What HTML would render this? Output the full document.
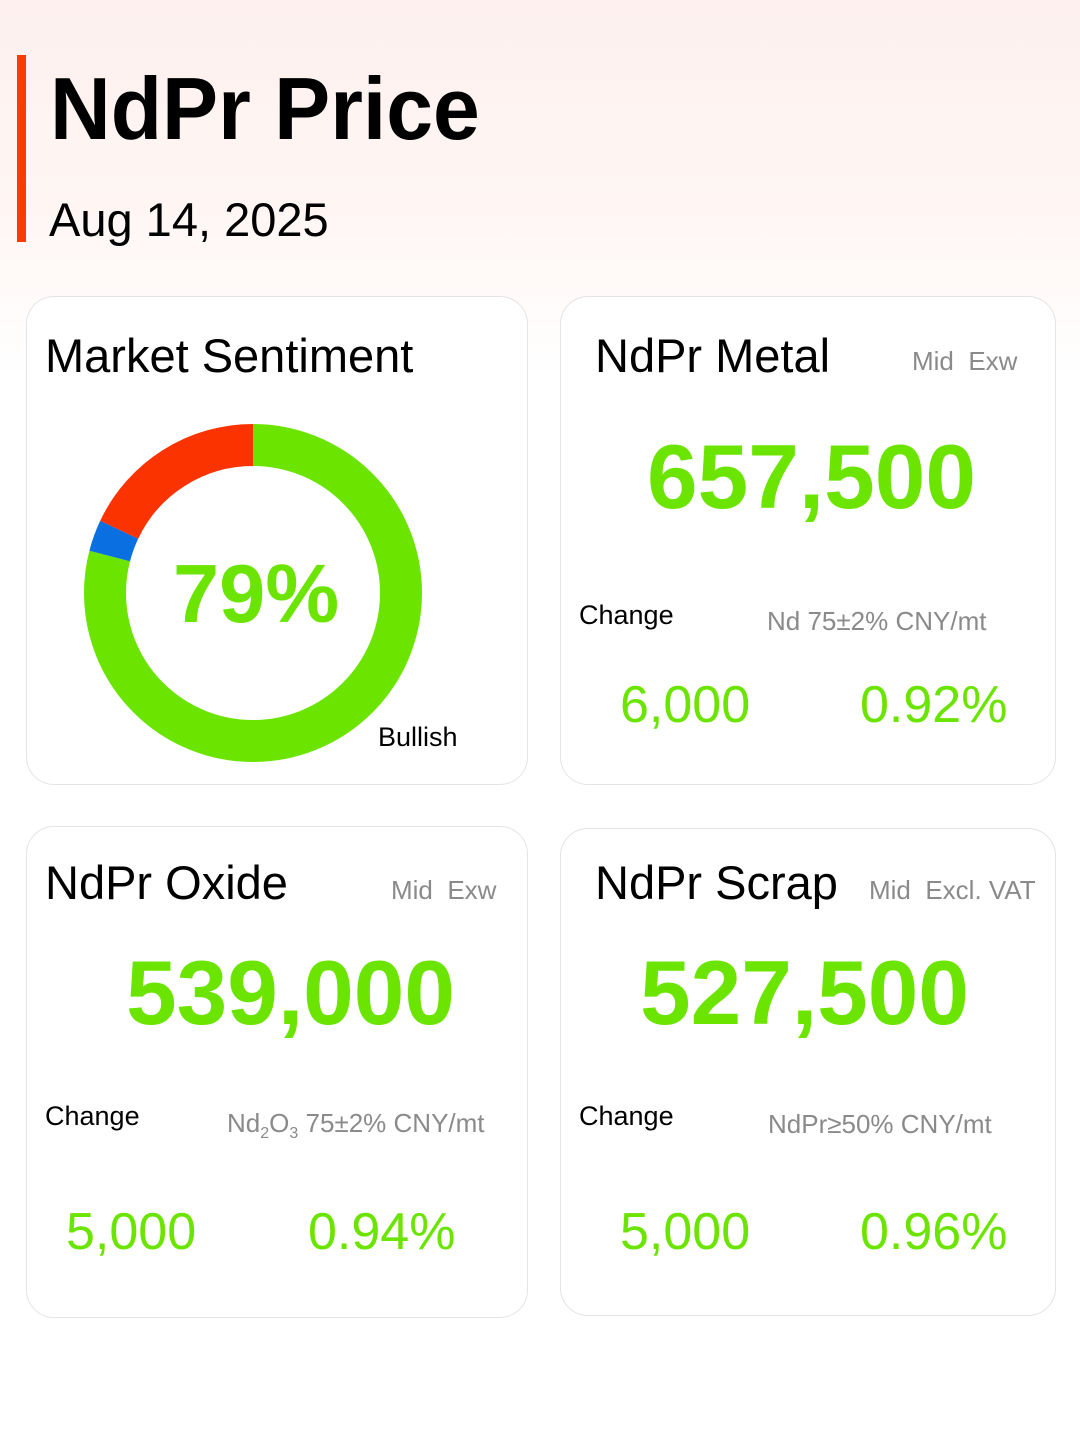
<!DOCTYPE html>
<html><head><meta charset="utf-8"><style>
body{margin:0;width:1080px;height:1433px;background:#fff;font-family:"Liberation Sans",sans-serif;position:relative;overflow:hidden}
.bg{position:absolute;left:0;top:0;width:1080px;height:380px;background:linear-gradient(180deg,#fdf0ee 0%,#fff7f5 60%,#ffffff 100%)}
.t{position:absolute;white-space:nowrap}
.card{position:absolute;border:1.5px solid #e4e4e4;border-radius:28px;background:#fff}
.g{color:#6be400}
.gray{color:#8a8a8a;font-size:26px}
.big{font-size:91px;font-weight:bold}
.v{font-size:52px}
</style></head><body>
<div class="bg"></div>
<div style="position:absolute;left:17px;top:55px;width:9px;height:187px;background:#fb3a0a"></div>
<div class="t" style="left:50px;top:58px;font-size:88px;font-weight:bold;transform:scaleX(0.955);transform-origin:0 0">NdPr Price</div>
<div class="t" style="left:49px;top:192px;font-size:47px;">Aug 14, 2025</div>

<div class="card" style="left:26px;top:296px;width:500px;height:487px"></div>
<div class="card" style="left:560px;top:296px;width:494px;height:487px"></div>
<div class="card" style="left:26px;top:826px;width:500px;height:490px"></div>
<div class="card" style="left:560px;top:828px;width:494px;height:486px"></div>

<div class="t" style="left:45px;top:328px;font-size:47px;">Market Sentiment</div>
<svg style="position:absolute;left:0;top:0" width="1080" height="800">
<g transform="translate(253,593) rotate(-90)">
<circle r="148" fill="none" stroke="#6be400" stroke-width="42" stroke-dasharray="734.6 1000"/>
<circle r="148" fill="none" stroke="#0a6fe0" stroke-width="42" stroke-dasharray="0 734.6 27.9 1000"/>
<circle r="148" fill="none" stroke="#fb3300" stroke-width="42" stroke-dasharray="0 762.5 167.4 1000"/>
</g></svg>
<div class="t g" style="left:173px;top:546px;font-size:83px;font-weight:bold;">79%</div>
<div class="t" style="left:378px;top:722px;font-size:27px;">Bullish</div>

<div class="t" style="left:595px;top:328px;font-size:47px;">NdPr Metal</div>
<div class="t gray" style="left:912px;top:346px;">Mid&nbsp;&nbsp;Exw</div>
<div class="t g big" style="left:647px;top:426px;">657,500</div>
<div class="t" style="left:579px;top:600px;font-size:27px;">Change</div>
<div class="t gray" style="left:767px;top:606px;">Nd 75±2% CNY/mt</div>
<div class="t g v" style="left:620px;top:675px;">6,000</div>
<div class="t g v" style="left:860px;top:675px;">0.92%</div>

<div class="t" style="left:45px;top:855px;font-size:47px;">NdPr Oxide</div>
<div class="t gray" style="left:391px;top:875px;">Mid&nbsp;&nbsp;Exw</div>
<div class="t g big" style="left:126px;top:942px;">539,000</div>
<div class="t" style="left:45px;top:1101px;font-size:27px;">Change</div>
<div class="t gray" style="left:227px;top:1108px;">Nd<sub style="font-size:16px">2</sub>O<sub style="font-size:16px">3</sub> 75±2% CNY/mt</div>
<div class="t g v" style="left:66px;top:1202px;">5,000</div>
<div class="t g v" style="left:308px;top:1202px;">0.94%</div>

<div class="t" style="left:595px;top:855px;font-size:47px;">NdPr Scrap</div>
<div class="t gray" style="left:869px;top:875px;">Mid&nbsp;&nbsp;Excl. VAT</div>
<div class="t g big" style="left:640px;top:942px;">527,500</div>
<div class="t" style="left:579px;top:1101px;font-size:27px;">Change</div>
<div class="t gray" style="left:768px;top:1109px;">NdPr≥50% CNY/mt</div>
<div class="t g v" style="left:620px;top:1202px;">5,000</div>
<div class="t g v" style="left:860px;top:1202px;">0.96%</div>
</body></html>
